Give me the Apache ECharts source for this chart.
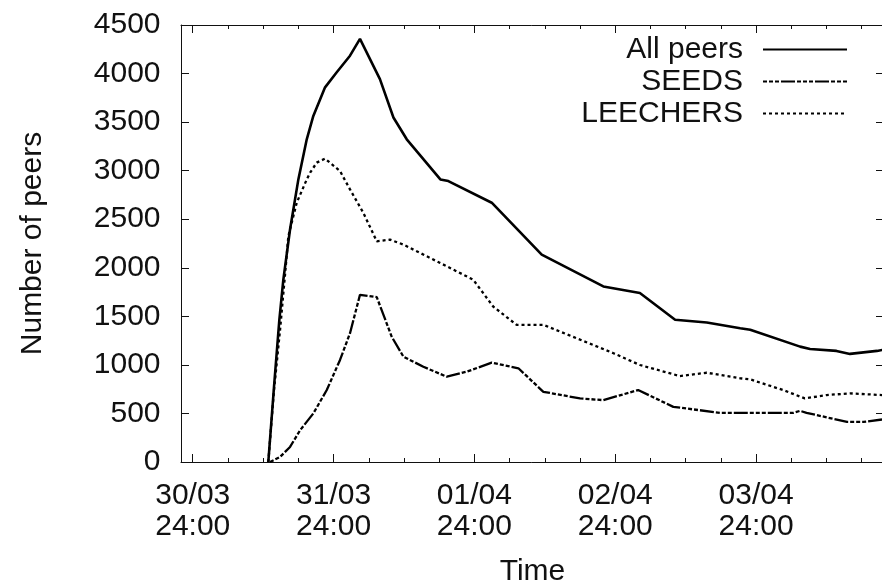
<!DOCTYPE html>
<html>
<head>
<meta charset="utf-8">
<script src="https://cdn.jsdelivr.net/npm/echarts@6/dist/echarts.min.js"></script>
<style>
html,body{margin:0;padding:0;background:#fff;}
#chart{width:882px;height:586px;}
</style>
</head>
<body>
<div id="chart"></div>
<script>
// Hours since 30/03 24:00
const allPeersHours = [12.88, 13.85, 14.76, 15.44, 16.58, 18.0, 19.43, 20.55, 22.55, 24.54, 26.8, 28.5, 31.9, 34.2, 36.47, 42.2, 43.56, 50.95, 59.47, 69.97, 76.2, 82.2, 87.6, 93.3, 95.0, 103.5, 105.2, 109.7, 112.0, 116.6, 117.5];
const allPeersValues = [0, 775, 1464, 1877, 2394, 2910, 3323, 3564, 3858, 4013, 4184, 4357, 3943, 3548, 3323, 2910, 2893, 2670, 2135, 1808, 1740, 1464, 1436, 1378, 1361, 1188, 1164, 1144, 1113, 1144, 1154];

const seedsHours = [13.17, 14.88, 16.58, 18.29, 20.55, 22.84, 25.1, 26.8, 28.5, 31.36, 33.9, 35.9, 39.3, 43.3, 46.7, 50.95, 55.5, 59.75, 66.0, 69.97, 75.9, 81.9, 89.9, 93.3, 102.4, 103.5, 104.6, 111.5, 114.3, 117.5];
const seedsValues = [0, 52, 155, 327, 500, 741, 1051, 1326, 1722, 1698, 1291, 1085, 981, 878, 930, 1023, 965, 723, 655, 637, 741, 568, 506, 506, 506, 527, 506, 413, 413, 438];

const leechersHours = [12.88, 13.85, 14.88, 15.73, 16.29, 17.72, 19.43, 20.0, 21.13, 22.55, 25.1, 26.8, 29.07, 31.36, 33.6, 35.9, 39.9, 43.85, 47.8, 51.2, 55.2, 59.75, 65.4, 71.7, 76.2, 83.0, 87.6, 93.3, 95.0, 100.6, 104.3, 108.0, 112.0, 117.5];
const leechersValues = [0, 740, 1360, 1929, 2324, 2670, 2910, 2979, 3083, 3124, 2996, 2807, 2566, 2273, 2290, 2239, 2118, 1998, 1877, 1601, 1412, 1412, 1275, 1120, 999, 885, 919, 862, 851, 741, 655, 689, 707, 689];

const seriesNames = ['All peers', 'SEEDS', 'LEECHERS'];
const majorTickHours = [0, 24, 48, 72, 96];
const majorTickLabels = ['30/03\n24:00', '31/03\n24:00', '01/04\n24:00', '02/04\n24:00', '03/04\n24:00'];
const minorTickHours = [6, 12, 18, 30, 36, 42, 54, 60, 66, 78, 84, 90, 102, 108, 114];
const yTicks = [0, 500, 1000, 1500, 2000, 2500, 3000, 3500, 4000, 4500];

const FONT = 'Liberation Sans, Arial, sans-serif';
const INK = '#111';

function zip(xs, ys) { return xs.map((x, i) => [x, ys[i]]); }

const xMin = -2, xMax = 117.8;
function xAx(pos, major, withLabel) {
  return {
    type: 'value', position: pos, min: xMin, max: xMax,
    axisLine: { show: major, onZero: false, lineStyle: { color: INK, width: 1 } },
    axisTick: { show: true, inside: true, length: major ? 8 : 4, customValues: major ? majorTickHours : minorTickHours, lineStyle: { color: INK, width: 1 } },
    axisLabel: withLabel ? {
      show: true, customValues: majorTickHours,
      formatter: v => majorTickLabels[majorTickHours.indexOf(v)] || '',
      fontSize: 30, lineHeight: 31, fontFamily: FONT, color: INK, margin: 18
    } : { show: false },
    splitLine: { show: false },
    name: withLabel ? 'Time' : '',
    nameLocation: 'middle', nameGap: 95,
    nameTextStyle: { fontSize: 30, fontFamily: FONT, color: INK }
  };
}

function yAx(pos, withLabel) {
  return {
    type: 'value', position: pos, min: 0, max: 4500,
    axisLine: { show: true, onZero: false, lineStyle: { color: INK, width: 1 } },
    axisTick: { show: true, inside: true, length: 8, customValues: yTicks, lineStyle: { color: INK, width: 1 } },
    axisLabel: withLabel ? {
      show: true, customValues: yTicks, formatter: v => String(v),
      fontSize: 30, fontFamily: FONT, color: INK, margin: 20.5
    } : { show: false },
    splitLine: { show: false },
    name: withLabel ? 'Number of peers' : '',
    nameLocation: 'middle', nameGap: 133,
    nameTextStyle: { fontSize: 30, fontFamily: FONT, color: INK }
  };
}

const option = {
  animation: false,
  backgroundColor: '#fff',
  grid: { left: 181, top: 25, width: 703, height: 437, containLabel: false, outerBoundsMode: 'none' },
  xAxis: [xAx('bottom', true, true), xAx('bottom', false, false), xAx('top', true, false), xAx('top', false, false)],
  yAxis: [yAx('left', true), yAx('right', false)],
  legend: {
    orient: 'vertical', right: 34, top: 34, padding: 0,
    align: 'right', itemWidth: 84, itemHeight: 14, itemGap: 1,
    data: seriesNames,
    itemStyle: { opacity: 0 },
    textStyle: { fontSize: 30, lineHeight: 31, fontFamily: FONT, color: INK, padding: [0, 15, 0, 0] }
  },
  series: [
    {
      name: seriesNames[0], type: 'line', xAxisIndex: 0, yAxisIndex: 0,
      data: zip(allPeersHours, allPeersValues), symbol: 'none', smooth: false,
      lineStyle: { color: '#000', width: 2.6, type: 'solid' }, itemStyle: { color: '#000' }
    },
    {
      name: seriesNames[1], type: 'line', xAxisIndex: 0, yAxisIndex: 0,
      data: zip(seedsHours, seedsValues), symbol: 'none', smooth: false,
      lineStyle: { color: '#000', width: 2.3, type: [4, 2, 4, 2, 4, 2, 14, 2] }, itemStyle: { color: '#000' }
    },
    {
      name: seriesNames[2], type: 'line', xAxisIndex: 0, yAxisIndex: 0,
      data: zip(leechersHours, leechersValues), symbol: 'none', smooth: false,
      lineStyle: { color: '#000', width: 2.3, type: [3, 3] }, itemStyle: { color: '#000' }
    }
  ]
};

const chart = echarts.init(document.getElementById('chart'), null, { renderer: 'canvas' });
chart.setOption(option);
</script>
</body>
</html>
